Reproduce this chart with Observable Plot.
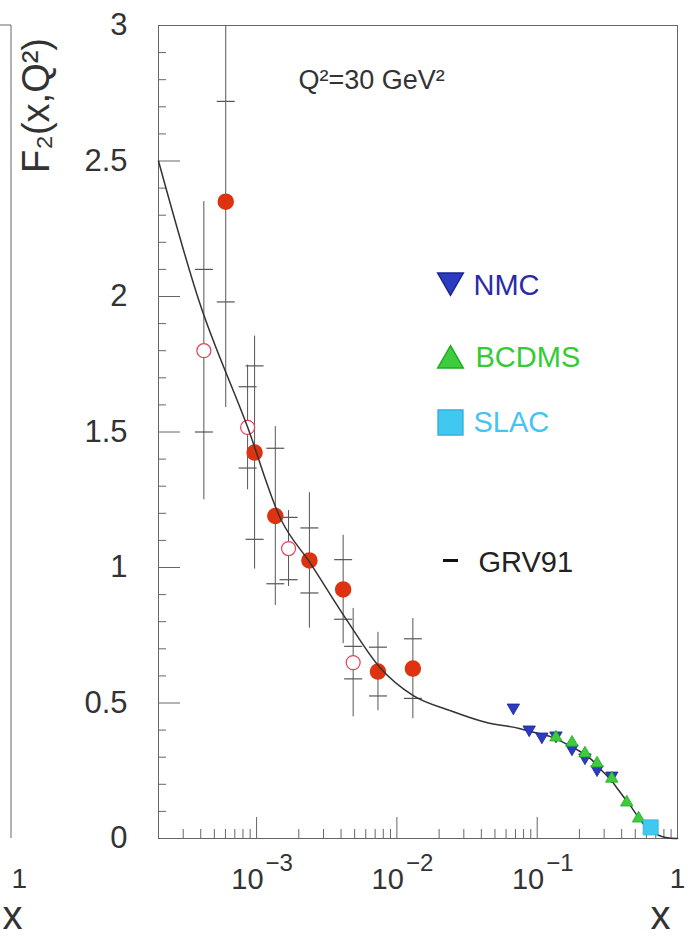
<!DOCTYPE html>
<html><head><meta charset="utf-8">
<script src="https://cdn.jsdelivr.net/npm/d3@7"></script>
<script src="https://cdn.jsdelivr.net/npm/@observablehq/plot@0.6"></script>
<style>body{margin:0;background:#fff;} #chart{width:692px;height:940px;}</style>
</head><body><div id="chart"></div>
<script>
// ---- data ----
// H1-like (filled red circles): x, F2, stat error (inner ticks), total error (line)
const h1X    = [6.03e-4, 9.68e-4, 1.36e-3, 2.38e-3, 4.14e-3, 7.33e-3, 0.0130];
const h1Y    = [2.35, 1.424, 1.19, 1.026, 0.919, 0.616, 0.627];
const h1Stat = [0.37, 0.32, 0.25, 0.12, 0.11, 0.09, 0.11];
const h1Tot  = [0.76, 0.43, 0.33, 0.25, 0.20, 0.145, 0.185];
// ZEUS-like (open red circles)
const zeusX    = [4.21e-4, 8.63e-4, 1.69e-3, 4.88e-3];
const zeusY    = [1.80, 1.517, 1.07, 0.649];
const zeusStat = [0.30, 0.15, 0.115, 0.06];
const zeusTot  = [0.55, 0.23, 0.14, 0.20];
// fixed-target data
const nmcX   = [0.0676, 0.0877, 0.108, 0.136, 0.177, 0.219, 0.267, 0.340];
const nmcY   = [0.483, 0.402, 0.376, 0.380, 0.332, 0.299, 0.255, 0.232];
const bcdmsX = [0.136, 0.177, 0.219, 0.267, 0.340, 0.435, 0.528];
const bcdmsY = [0.373, 0.354, 0.314, 0.277, 0.221, 0.133, 0.074];
const slacX  = [0.644];
const slacY  = [0.041];
// GRV91 curve
const grvX = [2e-4, 3.88e-4, 8.6e-4, 1.48e-3, 2.42e-3, 4.42e-3, 7.57e-3, 0.013, 0.024, 0.0435, 0.0745, 0.0877, 0.128, 0.143, 0.189, 0.245, 0.275, 0.308, 0.340, 0.382, 0.428, 0.472, 0.528, 0.593, 0.655, 0.733, 0.822, 1.0];
const grvY = [2.50, 1.985, 1.52, 1.181, 1.015, 0.804, 0.631, 0.528, 0.472, 0.428, 0.406, 0.396, 0.373, 0.362, 0.330, 0.290, 0.262, 0.236, 0.212, 0.177, 0.143, 0.114, 0.077, 0.045, 0.028, 0.012, 0.004, 0.0];
// ticks & labels
const yMajor = [0, 0.5, 1, 1.5, 2, 2.5, 3];
const yMinor = d3.range(1, 30).map(i => i / 10).filter(v => Math.round(v * 10) % 5 !== 0);
const xMajor = [1e-3, 1e-2, 1e-1];
const xMajorBase = ["10", "10", "10"];
const xMajorExp = ["\u22123", "\u22122", "\u22121"];
const xMinor = [1e-4, 1e-3, 1e-2, 1e-1].flatMap(d => [2,3,4,5,6,7,8,9].map(m => m * d)).filter(v => v > 2.05e-4 && v < 1);
const legendLabels = ["NMC", "BCDMS", "SLAC", "GRV91"];
const annotation = "Q\u00b2=30 GeV\u00b2";
const yTitle = "F\u2082(x,Q\u00b2)";
const xTitle = "x";

const toRows = (X, Y, S, T) => X.map((x, i) => ({x, y: Y[i], stat: S ? S[i] : 0, tot: T ? T[i] : 0}));
const h1 = toRows(h1X, h1Y, h1Stat, h1Tot);
const zeus = toRows(zeusX, zeusY, zeusStat, zeusTot);
const nmc = toRows(nmcX, nmcY);
const bcdms = toRows(bcdmsX, bcdmsY);
const slac = toRows(slacX, slacY);
const grv = toRows(grvX, grvY);
const statTicks = [...h1, ...zeus].flatMap(d => [{x: d.x, y: d.y + d.stat}, {x: d.x, y: d.y - d.stat}]);

const hLine = {draw(ctx, size) { const r = Math.sqrt(size / Math.PI); ctx.moveTo(-r, 0); ctx.lineTo(r, 0); }};

const red = "#dd3311", pink = "#e4405a", blue = "#2b3cc0", green = "#3dcc3d", cyan = "#40c8f0";
const axisCol = "#666", barCol = "#555";

const chart = Plot.plot({
  width: 692, height: 940,
  marginLeft: 158, marginRight: 15, marginTop: 25, marginBottom: 102,
  style: {fontFamily: "'Liberation Sans', Arial, Helvetica, sans-serif", color: "#333", background: "#fff", overflow: "visible"},
  x: {type: "log", domain: [2e-4, 1], axis: null},
  y: {domain: [0, 3], axis: null},
  marks: [
    Plot.frame({stroke: axisCol}),
    Plot.axisY({ticks: yMinor, anchor: "left", tickSize: -8, fill: "none", stroke: axisCol, label: null}),
    Plot.axisY({ticks: yMajor, anchor: "left", tickSize: -22, fill: "none", stroke: axisCol, label: null}),
    Plot.axisY({ticks: yMajor, anchor: "left", tickSize: 0, tickPadding: 31, fontSize: 31, fill: "#333", tickFormat: d => String(d), label: null}),
    Plot.axisX({ticks: xMinor, anchor: "bottom", tickSize: -9, fill: "none", stroke: axisCol, label: null}),
    Plot.axisX({ticks: xMajor, anchor: "bottom", tickSize: -21, fill: "none", stroke: axisCol, label: null}),
    Plot.text(xMajor, {x: d => d, frameAnchor: "bottom", text: (d, i) => xMajorBase[i], textAnchor: "end", dx: 7, dy: 50, lineAnchor: "bottom", fontSize: 29, fill: "#333"}),
    Plot.text(xMajor, {x: d => d, frameAnchor: "bottom", text: (d, i) => xMajorExp[i], textAnchor: "start", dx: 9, dy: 32, lineAnchor: "bottom", fontSize: 24, fill: "#333"}),
    Plot.text([1], {x: d => d, frameAnchor: "bottom", text: () => "1", dy: 49, lineAnchor: "bottom", fontSize: 28, fill: "#333"}),
    Plot.text([xTitle], {frameAnchor: "bottom-right", text: d => d, dx: -7, dy: 90, lineAnchor: "bottom", fontSize: 40, fill: "#333"}),
    Plot.text([yTitle], {frameAnchor: "top-left", text: d => d, dx: -122, dy: 80, rotate: -90, fontSize: 38, textAnchor: "middle", lineAnchor: "middle", fill: "#333"}),
    // left neighbouring panel labels
    Plot.text(["1"], {frameAnchor: "bottom-left", text: d => d, dx: -147, dy: 49, lineAnchor: "bottom", fontSize: 28, fill: "#333"}),
    Plot.text([xTitle], {frameAnchor: "bottom-left", text: d => d, dx: -156, dy: 90, lineAnchor: "bottom", fontSize: 40, fill: "#333"}),
    // annotation
    Plot.text([annotation], {frameAnchor: "top-left", text: d => d, dx: 140, dy: 63, lineAnchor: "bottom", textAnchor: "start", fontSize: 27, fill: "#333"}),
    // error bars
    Plot.ruleX([...h1, ...zeus], {x: "x", y1: d => d.y - d.tot, y2: d => d.y + d.tot, stroke: barCol, strokeWidth: 1, clip: true}),
    Plot.dot(statTicks, {x: "x", y: "y", symbol: hLine, r: 9, fill: "none", stroke: barCol, strokeWidth: 1.2}),
    Plot.dot(h1, {x: "x", y: "y", r: 7.5, fill: red, stroke: red}),
    Plot.dot(zeus, {x: "x", y: "y", r: 7, fill: "white", stroke: pink, strokeWidth: 1.2}),
    Plot.line(grv, {x: "x", y: "y", curve: "monotone-x", stroke: "#333", strokeWidth: 1.5}),
    Plot.dot(nmc, {x: "x", y: "y", symbol: "triangle", rotate: 180, r: 4.6, fill: blue, stroke: "#1a2590", strokeWidth: 0.8}),
    Plot.dot(bcdms, {x: "x", y: "y", symbol: "triangle", r: 4.6, fill: green, stroke: "#22aa22", strokeWidth: 0.8}),
    Plot.dot(slac, {x: "x", y: "y", symbol: "square", r: 8.5, fill: cyan, stroke: "#30b0e0", strokeWidth: 0.8}),
    // legend
    Plot.dot([legendLabels[0]], {frameAnchor: "top-left", dx: 292, dy: 255, symbol: "triangle", rotate: 180, r: 9.5, fill: blue, stroke: "#1a2590"}),
    Plot.dot([legendLabels[1]], {frameAnchor: "top-left", dx: 292, dy: 335, symbol: "triangle", r: 9.5, fill: green, stroke: "#22aa22"}),
    Plot.dot([legendLabels[2]], {frameAnchor: "top-left", dx: 292, dy: 397, symbol: "square", r: 14, fill: cyan, stroke: "#30b0e0"}),
    Plot.dot([legendLabels[3]], {frameAnchor: "top-left", dx: 292, dy: 535, symbol: hLine, r: 7.5, fill: "none", stroke: "#111", strokeWidth: 3}),
    Plot.text([legendLabels[0]], {frameAnchor: "top-left", text: d => d, dx: 315, dy: 260, textAnchor: "start", lineAnchor: "middle", fontSize: 29, fill: "#2b2ba8"}),
    Plot.text([legendLabels[1]], {frameAnchor: "top-left", text: d => d, dx: 317, dy: 332, textAnchor: "start", lineAnchor: "middle", fontSize: 29, fill: "#33cc33"}),
    Plot.text([legendLabels[2]], {frameAnchor: "top-left", text: d => d, dx: 315, dy: 397, textAnchor: "start", lineAnchor: "middle", fontSize: 29, fill: "#44c4f4"}),
    Plot.text([legendLabels[3]], {frameAnchor: "top-left", text: d => d, dx: 320, dy: 537, textAnchor: "start", lineAnchor: "middle", fontSize: 29, fill: "#222"})
  ]
});
document.getElementById("chart").appendChild(chart);
// edge of the neighbouring panel on the left
const svg = d3.select(chart);
svg.append("path").attr("d", "M0,25H11V838").attr("fill", "none").attr("stroke", axisCol).attr("stroke-width", 1);
</script>
</body></html>
